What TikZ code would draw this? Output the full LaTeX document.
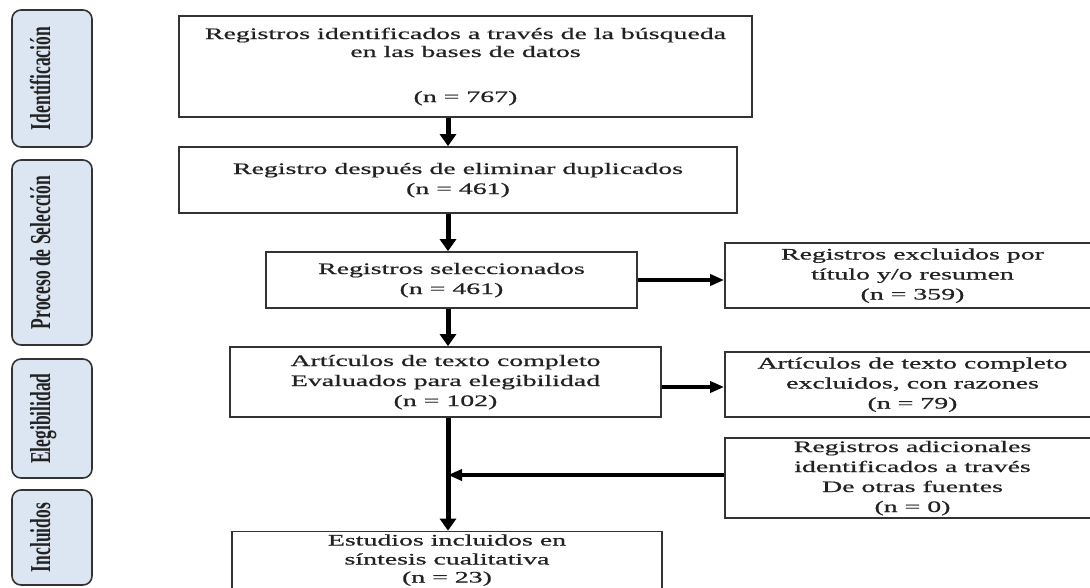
\documentclass[tikz,border=0pt]{standalone}
\usepackage{fontspec}
\setmainfont{Liberation Serif}
\newfontfamily\heavyserif{Liberation Serif}[FakeBold=0.6]
\usetikzlibrary{arrows.meta}
\definecolor{sidefill}{HTML}{DCE6F2}
\definecolor{edgec}{HTML}{333333}
\definecolor{ink}{HTML}{222222}
\newcommand{\mtext}[1]{\scalebox{1.74}[1]{\heavyserif\fontsize{16}{20}\selectfont\begin{tabular}{@{}c@{}}#1\end{tabular}}}
\newcommand{\stext}[1]{\scalebox{1}[1.65]{\fontsize{17.5}{20}\selectfont\bfseries #1}}
\begin{document}
\begin{tikzpicture}[x=1pt,y=-1pt,
  box/.style={draw=edgec, line width=1.7pt, inner sep=0pt, text=ink},
  side/.style={draw=edgec, fill=sidefill, line width=1.6pt, rounded corners=9pt, inner sep=0pt},
  slabel/.style={rotate=90, anchor=base, inner sep=0pt, text=ink},
  varr/.style={line width=5pt, -{Triangle[length=12pt,width=16pt]}},
  harr/.style={line width=3.5pt, -{Triangle[length=14pt,width=11pt]}},
]
\useasboundingbox (0,0) rectangle (1090,587);

% side phase boxes
\node[side, minimum width=80pt, minimum height=137pt] (s1) at (52,78.5) {};
\node[side, minimum width=80pt, minimum height=185pt] (s2) at (52,252.5) {};
\node[side, minimum width=80pt, minimum height=119pt] (s3) at (52,418.5) {};
\node[side, minimum width=80pt, minimum height=95pt] (s4) at (52,537.5) {};
\node[slabel] (l1) at ([xshift=-2pt]s1.center) {\stext{Identificación}};
\node[slabel] (l2) at ([xshift=-2pt]s2.center) {\stext{Proceso de Selección}};
\node[slabel] (l3) at ([xshift=-2pt]s3.center) {\stext{Elegibilidad}};
\node[slabel] (l4) at ([xshift=-2pt]s4.center) {\stext{Incluidos}};

% main column
\node[box, minimum width=573pt, minimum height=101pt] (b1) at (465.5,66.5)
  {\mtext{Registros identificados a través de la búsqueda\\[-2pt] en las bases de datos\\[25pt] (n = 767)}};
\node[box, minimum width=558pt, minimum height=66pt] (b2) at (458,180)
  {\mtext{Registro después de eliminar duplicados\\ (n = 461)}};
\node[box, minimum width=371pt, minimum height=56pt] (b3) at (451.5,280)
  {\mtext{Registros seleccionados\\ (n = 461)}};
\node[box, minimum width=431pt, minimum height=70pt] (b4) at (445.5,382)
  {\mtext{Artículos de texto completo\\ Evaluados para elegibilidad\\ (n = 102)}};
\node[box, minimum width=430pt, minimum height=54pt] (b5) at (447,560)
  {\mtext{Estudios incluidos en\\[-1pt] síntesis cualitativa\\[-2pt] (n = 23)}};

% right column
\node[box, minimum width=375pt, minimum height=65pt] (r1) at (912.5,275.5)
  {\mtext{Registros excluidos por\\ título y/o resumen\\ (n = 359)}};
\node[box, minimum width=375pt, minimum height=65pt] (r2) at (912.5,384.5)
  {\mtext{Artículos de texto completo\\ excluidos, con razones\\ (n = 79)}};
\node[box, minimum width=375pt, minimum height=78pt] (r3) at (912.5,478)
  {\mtext{Registros adicionales\\ identificados a través\\ De otras fuentes\\ (n = 0)}};

% connectors
\coordinate (spine) at (448,0);
\coordinate (b4out) at ([yshift=-5pt]b4.east);
\coordinate (r3out) at ([yshift=3pt]r3.west);
\draw[varr] (b1.south -| spine) -- (b2.north -| spine);
\draw[varr] (b2.south -| spine) -- (b3.north -| spine);
\draw[varr] (b3.south -| spine) -- (b4.north -| spine);
\draw[varr] (b4.south -| spine) -- (b5.north -| spine);
\draw[harr] (b3.east) -- (r1.west |- b3.east);
\draw[harr] (b4out) -- (r2.west |- b4out);
\draw[harr] (r3out) -- (r3out -| spine);
\end{tikzpicture}
\end{document}
